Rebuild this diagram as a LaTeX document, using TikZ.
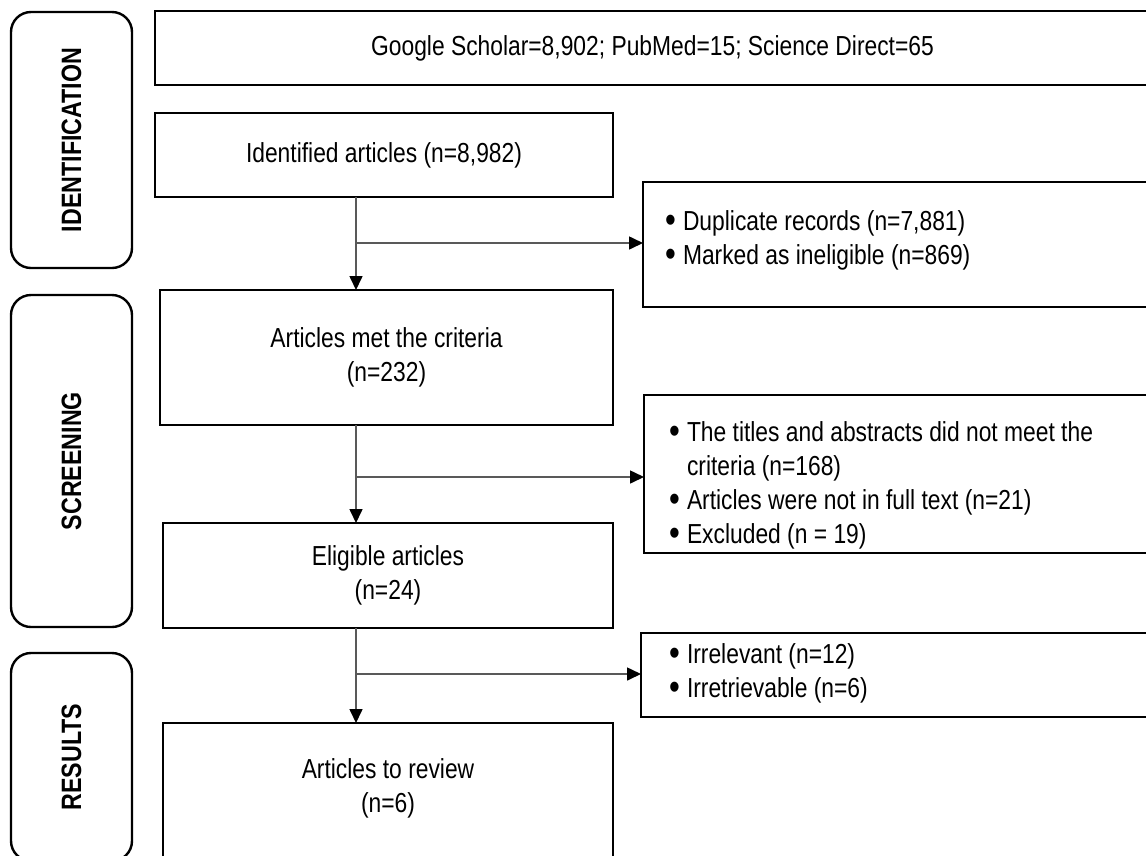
\documentclass[tikz,border=0pt]{standalone}
\usepackage{fontspec}
\setmainfont[FakeStretch=0.83]{Liberation Sans}
\usetikzlibrary{arrows.meta}
\tikzset{
  mainbox/.style={draw, line width=2.6pt, inner sep=0pt, outer sep=0pt, align=center,
    font=\fontsize{27.5}{34}\selectfont, anchor=north west},
  sidebox/.style={draw, line width=2.4pt, rounded corners=20pt, inner sep=0pt, outer sep=0pt,
    minimum width=121pt, anchor=north west, font=\bfseries\fontsize{28}{30}\selectfont},
  listtext/.style={inner sep=0pt, outer sep=0pt, align=left, anchor=north west,
    font=\fontsize{27.5}{34}\selectfont},
  conn/.style={draw=black!65, line width=1.6pt},
  arr/.style={conn, -{Triangle[length=14pt,width=13pt,color=black]}}
}
\newcommand\bul{\makebox[18pt][l]{\raisebox{-1.5pt}{\scalebox{1.35}{\textbullet}}}}
\begin{document}
\begin{tikzpicture}[x=1pt,y=-1pt]
\clip (0,0) rectangle (1146,855);
\fill[white] (0,0) rectangle (1146,855);

% side labels
\node[sidebox, minimum height=256pt] (idside) at (11,12) {\rotatebox{90}{IDENTIFICATION}};
\node[sidebox, minimum height=332pt] (scrside) at (11,295) {\rotatebox{90}{SCREENING}};
\node[sidebox, minimum height=208pt] (resside) at (11,653) {\rotatebox{90}{RESULTS}};

% main column
\node[mainbox, minimum width=995pt, minimum height=74pt] (google) at (155,11)
  {Google Scholar=8,902; PubMed=15; Science Direct=65};
\node[mainbox, minimum width=458pt, minimum height=84pt] (ident) at (155,113)
  {Identified articles (n=8,982)};
\node[mainbox, minimum width=453pt, minimum height=135pt] (met) at (160,290)
  {Articles met the criteria\\(n=232)};
\node[mainbox, minimum width=450pt, minimum height=105pt] (elig) at (163,523)
  {Eligible articles\\(n=24)};
\node[mainbox, minimum width=450pt, minimum height=150pt] (res) at (163,723) {};
\node[inner sep=0pt, align=center, font=\fontsize{27.5}{34}\selectfont] (resT) at (388,788)
  {Articles to review\\(n=6)};

% exclusion boxes
\node[mainbox, minimum width=507pt, minimum height=125pt] (dup) at (643,182) {};
\node[listtext] (dupT) at (665,211)
  {\bul Duplicate records (n=7,881)\\\bul Marked as ineligible (n=869)};
\node[mainbox, minimum width=506pt, minimum height=158pt] (ex2) at (644,395) {};
\node[listtext] (ex2T) at (669,422)
  {\bul The titles and abstracts did not meet the\\\hspace*{18pt}criteria (n=168)\\\bul Articles were not in full text (n=21)\\\bul Excluded (n = 19)};
\node[mainbox, minimum width=509pt, minimum height=84pt] (ex3) at (641,633) {};
\node[listtext] (ex3T) at (669,644)
  {\bul Irrelevant (n=12)\\\bul Irretrievable (n=6)};

% connectors
\coordinate (v) at (356,0);
\coordinate (b1) at (356,243);
\coordinate (b2) at (356,477);
\coordinate (b3) at (356,674);
\draw[arr] (ident.south -| v) -- (met.north -| v);
\draw[arr] (b1) -- (b1 -| dup.west);
\draw[arr] (met.south -| v) -- (elig.north -| v);
\draw[arr] (b2) -- (b2 -| ex2.west);
\draw[arr] (elig.south -| v) -- (res.north -| v);
\draw[arr] (b3) -- (b3 -| ex3.west);
\end{tikzpicture}
\end{document}
